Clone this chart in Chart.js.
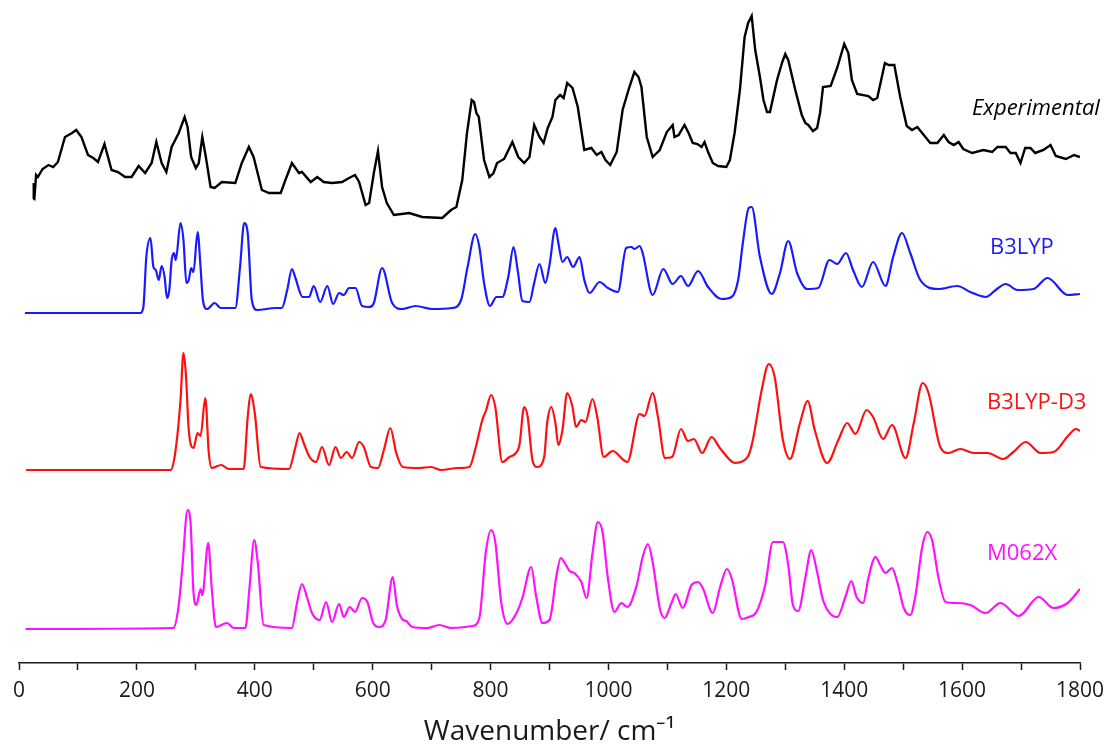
<!DOCTYPE html>
<html>
<head>
<meta charset="utf-8">
<script src="https://cdn.jsdelivr.net/npm/chart.js@4"></script>
<style>
  html, body { margin: 0; padding: 0; background: #fff; }
  canvas { display: block; }
</style>
</head>
<body>
<canvas id="spectra" width="1117" height="749"></canvas>
<script>
// spectra; intensities are stacked with offsets (arbitrary units)
const expWavenumber = [24, 25, 27, 29, 32, 40, 50, 58, 66, 78, 90, 97, 106, 117, 126, 134, 145, 157, 168, 180, 191, 203, 214, 225, 233, 242, 250, 259, 271, 281, 286, 292, 300, 305, 311, 317, 325, 332, 344, 367, 378, 390, 398, 412, 424, 444, 452, 463, 475, 480, 495, 506, 517, 531, 548, 560, 570, 577, 588, 594, 602, 609, 616, 624, 636, 662, 684, 718, 733, 742, 752, 760, 768, 772, 776, 780, 789, 798, 805, 811, 823, 837, 847, 857, 866, 874, 883, 890, 897, 905, 910, 918, 924, 930, 939, 948, 959, 971, 980, 988, 995, 1003, 1014, 1024, 1035, 1044, 1051, 1056, 1065, 1075, 1087, 1099, 1109, 1112, 1119, 1129, 1136, 1143, 1151, 1158, 1163, 1169, 1177, 1186, 1200, 1206, 1214, 1223, 1231, 1237, 1243, 1249, 1257, 1263, 1269, 1274, 1286, 1295, 1300, 1305, 1317, 1328, 1334, 1339, 1347, 1354, 1359, 1364, 1377, 1388, 1400, 1407, 1413, 1422, 1441, 1449, 1456, 1469, 1475, 1485, 1495, 1506, 1515, 1524, 1546, 1558, 1569, 1577, 1586, 1594, 1602, 1617, 1636, 1651, 1660, 1674, 1682, 1691, 1699, 1707, 1716, 1724, 1738, 1750, 1759, 1776, 1790, 1800];
const expIntensity = [464, 480, 472, 488, 486, 494, 498, 496, 501, 526, 530, 533, 526, 508, 505, 501, 519, 493, 491, 486, 486, 497, 490, 500, 521, 500, 491, 516, 530, 546, 536, 506, 495, 500, 526, 506, 476, 475, 481, 480, 500, 516, 506, 473, 470, 470, 483, 500, 490, 491, 481, 486, 481, 480, 481, 485, 488, 481, 458, 460, 490, 512, 476, 460, 448, 450, 446, 445, 453, 456, 483, 530, 563, 561, 550, 546, 503, 486, 490, 500, 504, 521, 506, 500, 506, 538, 526, 520, 535, 546, 563, 568, 565, 580, 575, 556, 513, 515, 508, 511, 503, 498, 511, 553, 575, 591, 586, 576, 526, 506, 513, 531, 538, 526, 528, 538, 530, 520, 519, 516, 521, 511, 500, 497, 496, 503, 530, 573, 626, 640, 647, 613, 586, 563, 551, 551, 583, 601, 609, 603, 573, 548, 540, 538, 532, 535, 550, 576, 577, 595, 619, 610, 583, 569, 567, 563, 565, 600, 598, 598, 566, 537, 533, 536, 520, 520, 528, 521, 518, 521, 514, 510, 513, 511, 516, 516, 510, 510, 500, 515, 515, 510, 513, 518, 507, 504, 508, 506];

const b3lypWavenumber = [10, 206, 211, 216, 223, 228, 232, 237, 242, 247, 251, 255, 259, 263, 266, 274, 279, 284, 288, 292, 296, 303, 308, 312, 319, 332, 342, 367, 375, 382, 388, 395, 404, 435, 446, 455, 463, 469, 481, 492, 500, 511, 523, 533, 543, 551, 560, 571, 582, 594, 602, 616, 633, 650, 673, 701, 735, 750, 761, 774, 781, 789, 799, 810, 820, 830, 839, 846, 854, 866, 874, 883, 893, 900, 910, 915, 922, 930, 940, 951, 959, 968, 985, 999, 1016, 1030, 1039, 1044, 1053, 1058, 1075, 1093, 1109, 1123, 1135, 1152, 1169, 1192, 1209, 1220, 1228, 1238, 1243, 1257, 1277, 1291, 1305, 1320, 1337, 1356, 1375, 1388, 1403, 1415, 1430, 1449, 1470, 1483, 1498, 1512, 1529, 1560, 1592, 1614, 1640, 1657, 1674, 1694, 1721, 1745, 1779, 1800];
const b3lypIntensity = [350, 350, 356, 406, 425, 396, 393, 383, 397, 386, 365, 373, 403, 410, 403, 440, 423, 380, 383, 395, 391, 431, 396, 363, 354, 360, 355, 355, 396, 440, 430, 363, 353, 355, 355, 373, 394, 385, 366, 366, 377, 361, 377, 359, 370, 368, 375, 375, 357, 356, 360, 395, 360, 354, 357, 354, 355, 363, 396, 429, 416, 380, 357, 366, 366, 386, 416, 393, 362, 361, 380, 399, 380, 398, 435, 420, 401, 406, 396, 406, 383, 370, 381, 375, 371, 415, 416, 414, 417, 410, 368, 394, 379, 387, 377, 392, 376, 364, 366, 383, 420, 455, 456, 406, 369, 390, 422, 390, 374, 375, 403, 399, 410, 393, 376, 401, 377, 406, 430, 410, 383, 374, 377, 371, 366, 373, 379, 373, 374, 385, 368, 369];

const d3Wavenumber = [12, 257, 265, 274, 279, 283, 288, 296, 303, 308, 316, 322, 327, 343, 356, 381, 388, 393, 400, 410, 458, 469, 476, 483, 493, 504, 514, 526, 537, 546, 556, 565, 577, 585, 597, 609, 619, 630, 640, 651, 679, 699, 716, 744, 764, 775, 786, 792, 801, 808, 820, 832, 843, 849, 857, 863, 871, 879, 891, 896, 903, 910, 915, 922, 930, 939, 945, 954, 961, 973, 981, 992, 1007, 1032, 1053, 1061, 1075, 1084, 1096, 1108, 1123, 1135, 1145, 1159, 1175, 1189, 1215, 1231, 1238, 1245, 1260, 1272, 1282, 1296, 1308, 1325, 1338, 1350, 1371, 1390, 1405, 1419, 1438, 1449, 1466, 1481, 1504, 1518, 1533, 1543, 1563, 1577, 1597, 1620, 1643, 1670, 1687, 1708, 1733, 1755, 1781, 1793, 1800];
const d3Intensity = [193, 193, 210, 263, 310, 290, 233, 215, 230, 227, 265, 210, 195, 198, 194, 194, 246, 269, 250, 196, 194, 216, 230, 220, 206, 201, 216, 198, 216, 205, 211, 205, 221, 216, 196, 195, 213, 235, 210, 196, 195, 196, 193, 195, 196, 216, 243, 252, 268, 256, 201, 206, 210, 218, 256, 246, 203, 196, 206, 240, 256, 240, 218, 233, 270, 256, 236, 243, 241, 264, 246, 206, 212, 201, 249, 247, 270, 246, 205, 206, 234, 222, 224, 210, 226, 215, 200, 203, 208, 223, 273, 299, 286, 223, 204, 240, 262, 233, 200, 223, 240, 229, 253, 246, 224, 238, 205, 240, 280, 270, 216, 210, 214, 210, 210, 204, 211, 221, 210, 211, 228, 234, 232];

const m062xWavenumber = [11, 262, 271, 277, 286, 291, 296, 301, 308, 311, 321, 327, 334, 353, 364, 384, 391, 399, 405, 415, 463, 471, 480, 489, 497, 510, 521, 531, 543, 551, 561, 570, 582, 591, 601, 611, 622, 634, 641, 650, 657, 667, 693, 713, 733, 769, 781, 792, 801, 808, 818, 829, 844, 854, 869, 877, 888, 900, 912, 919, 926, 934, 942, 954, 963, 973, 982, 990, 999, 1010, 1022, 1032, 1048, 1058, 1067, 1075, 1087, 1095, 1107, 1114, 1126, 1141, 1152, 1160, 1177, 1189, 1201, 1209, 1226, 1238, 1251, 1266, 1279, 1296, 1305, 1313, 1322, 1334, 1344, 1354, 1364, 1388, 1402, 1412, 1421, 1432, 1441, 1453, 1461, 1470, 1481, 1490, 1501, 1512, 1521, 1532, 1541, 1549, 1560, 1572, 1592, 1614, 1640, 1665, 1696, 1730, 1755, 1779, 1800];
const m062xIntensity = [34, 35, 58, 95, 153, 141, 71, 58, 74, 68, 120, 75, 36, 40, 35, 35, 75, 123, 101, 38, 35, 58, 79, 65, 50, 43, 61, 41, 59, 46, 56, 51, 65, 61, 40, 36, 43, 86, 58, 44, 42, 36, 35, 38, 35, 37, 45, 111, 133, 121, 61, 39, 50, 65, 96, 68, 40, 43, 88, 105, 100, 92, 90, 81, 65, 110, 141, 131, 85, 51, 60, 56, 78, 106, 119, 101, 55, 45, 60, 69, 55, 78, 81, 75, 50, 75, 94, 85, 44, 46, 51, 78, 121, 121, 98, 58, 52, 85, 113, 91, 63, 46, 66, 82, 66, 60, 85, 106, 98, 90, 95, 81, 55, 48, 68, 115, 131, 123, 85, 61, 60, 58, 50, 60, 47, 66, 55, 60, 74];

const seriesNames = ["Experimental", "B3LYP", "B3LYP-D3", "M062X"];
const seriesColors = ["#000000", "#1a1aff", "#ff1010", "#ff10ff"];

const pairs = (xs, ys) => xs.map((x, i) => ({ x: x, y: ys[i] }));

// name labels next to each trace (pixel positions)
const labelSpots = [
  { x: 972, y: 115, italic: true },
  { x: 990, y: 254 },
  { x: 987, y: 409 },
  { x: 987, y: 560 }
];

const traceLabels = {
  id: "traceLabels",
  afterDraw(chart) {
    const c = chart.ctx;
    c.save();
    c.textBaseline = "alphabetic";
    c.textAlign = "left";
    labelSpots.forEach((s, i) => {
      c.font = (s.italic ? "italic " : "") + "22px 'Open Sans'";
      c.fillStyle = seriesColors[i];
      c.fillText(seriesNames[i], s.x, s.y);
    });
    c.restore();
  }
};

const ctx = document.getElementById("spectra");

new Chart(ctx, {
  type: "line",
  data: {
    datasets: [
      {
        label: seriesNames[0],
        data: pairs(expWavenumber, expIntensity),
        borderColor: seriesColors[0],
        borderWidth: 2.4,
        tension: 0,
      },
      {
        label: seriesNames[1],
        data: pairs(b3lypWavenumber, b3lypIntensity),
        borderColor: seriesColors[1],
        borderWidth: 2.2,
        cubicInterpolationMode: "monotone",
      },
      {
        label: seriesNames[2],
        data: pairs(d3Wavenumber, d3Intensity),
        borderColor: seriesColors[2],
        borderWidth: 2.2,
        cubicInterpolationMode: "monotone",
      },
      {
        label: seriesNames[3],
        data: pairs(m062xWavenumber, m062xIntensity),
        borderColor: seriesColors[3],
        borderWidth: 2.2,
        cubicInterpolationMode: "monotone",
      },
    ],
  },
  options: {
    responsive: false,
    animation: false,
    devicePixelRatio: 1,
    layout: { padding: { left: 19, right: 37, top: 10, bottom: 0 } },
    elements: { point: { radius: 0 } },
    plugins: {
      legend: { display: false },
      tooltip: { enabled: false },
    },
    scales: {
      x: {
        type: "linear",
        min: 0,
        max: 1800,
        afterFit: (scale) => { scale.height = 86; },
        border: { color: "#1a1a1a", width: 1.5 },
        grid: { drawOnChartArea: false, drawTicks: true, tickLength: 7, color: "#1a1a1a", tickWidth: 1.5 },
        ticks: {
          stepSize: 100,
          autoSkip: false,
          maxRotation: 0,
          padding: 8,
          color: "#1a1a1a",
          font: { family: "'Open Sans'", size: 21 },
          callback: (v) => (v % 200 === 0 ? v : ""),
        },
        title: {
          display: true,
          text: "Wavenumber/ cm⁻¹",
          color: "#1a1a1a",
          font: { family: "'Open Sans'", size: 28 },
          padding: { top: 2, bottom: 0 },
        },
      },
      y: {
        display: false,
        min: 0,
        max: 653,
      },
    },
  },
  plugins: [traceLabels],
});
</script>
</body>
</html>
